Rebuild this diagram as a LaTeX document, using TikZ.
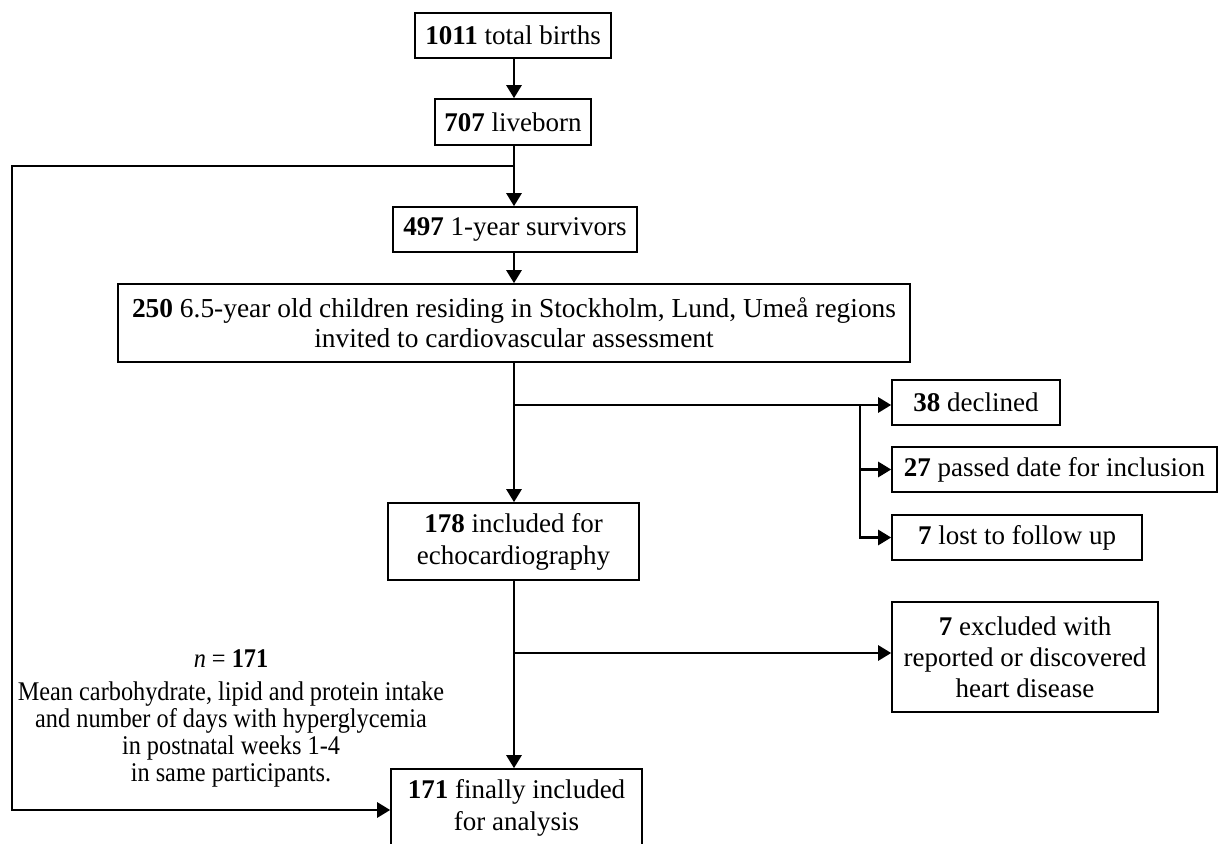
\documentclass[tikz,border=0pt]{standalone}
\usepackage{fontspec}
\setmainfont{Liberation Serif}
\newfontfamily\noteserif[FakeStretch=0.9]{Liberation Serif}
\usetikzlibrary{positioning, calc, arrows.meta}

\tikzset{
    box/.style={draw, line width=0.8pt, align=center, inner sep=0pt,
        font=\fontsize{13.5}{16}\selectfont},
    flow/.style={line width=1.3pt, -{Triangle[length=6.5pt, width=7.5pt]}},
    note/.style={align=center, font=\noteserif\fontsize{13.5}{13.5}\selectfont},
}

\begin{document}
\begin{tikzpicture}[x=0.5pt, y=-0.5pt]
    \useasboundingbox (0,0) rectangle (1219,844);

    % --- MAIN COLUMN ---
    \node[box, minimum width=98pt, minimum height=22.5pt] (births) at (513,35.5) {\textbf{1011} total births};
    \node[box, minimum width=78pt, minimum height=23pt] (live) at (513,122) {\textbf{707} liveborn};
    \node[box, minimum width=122pt, minimum height=22.5pt] (surv) at (515,229.5) {\textbf{497} 1-year survivors};
    \node[box, minimum width=396pt, minimum height=39pt, font=\fontsize{13.7}{15}\selectfont] (invited) at (514,323)
        {\textbf{250} 6.5-year old children residing in Stockholm, Lund, Umeå regions\\invited to cardiovascular assessment};
    \node[box, minimum width=125.5pt, minimum height=38.5pt] (echo) at (513.5,541.5) {\textbf{178} included for\\echocardiography};
    \node[box, minimum width=125.5pt, minimum height=38.5pt] (final) at (516.5,807.5) {\textbf{171} finally included\\for analysis};

    % --- DROP-OUTS ---
    \node[box, minimum width=84pt, minimum height=22.5pt] (declined) at (976,402.5) {\textbf{38} declined};
    \node[box, minimum width=162.5pt, minimum height=22.5pt] (passed) at (1054.5,469.5) {\textbf{27} passed date for inclusion};
    \node[box, minimum width=125pt, minimum height=22.5pt] (lost) at (1017,537.5) {\textbf{7} lost to follow up};
    \node[box, minimum width=133pt, minimum height=55pt, font=\fontsize{13.5}{15.5}\selectfont] (heart) at (1025,657)
        {\textbf{7} excluded with\\reported or discovered\\heart disease};

    % --- SIDE NOTE ---
    \node[note] (intake) at (231,718) {\textit{n} = \textbf{171}\\[3pt]
        Mean carbohydrate, lipid and protein intake\\and number of days with hyperglycemia\\in postnatal weeks 1-4\\in same participants.};

    % junction points
    \coordinate (jLive) at (514,166);
    \coordinate (cTop) at (12,166);
    \coordinate (cBot) at (12,810);
    \coordinate (jInv) at (514,405);
    \coordinate (jOut) at (860,405);
    \coordinate (jEcho) at (514,653);

    % --- CONNECTORS ---
    \draw[flow] (births.south -| jLive) -- (jLive |- live.north);
    \draw[flow] (jLive |- live.south) -- (jLive |- surv.north);
    \draw[flow] (jLive |- surv.south) -- (jLive |- invited.north);
    \draw[flow] (jLive) -- (cTop) -- (cBot) -- (cBot -| final.west);

    \draw[flow] (jInv |- invited.south) -- (jInv |- echo.north);
    \draw[flow] (jInv) -- (jInv -| declined.west);
    \draw[flow] (jOut) |- (passed.west);
    \draw[flow] (jOut) |- (lost.west);

    \draw[flow] (jEcho |- echo.south) -- (jEcho |- final.north);
    \draw[flow] (jEcho) -- (jEcho -| heart.west);

\end{tikzpicture}
\end{document}
